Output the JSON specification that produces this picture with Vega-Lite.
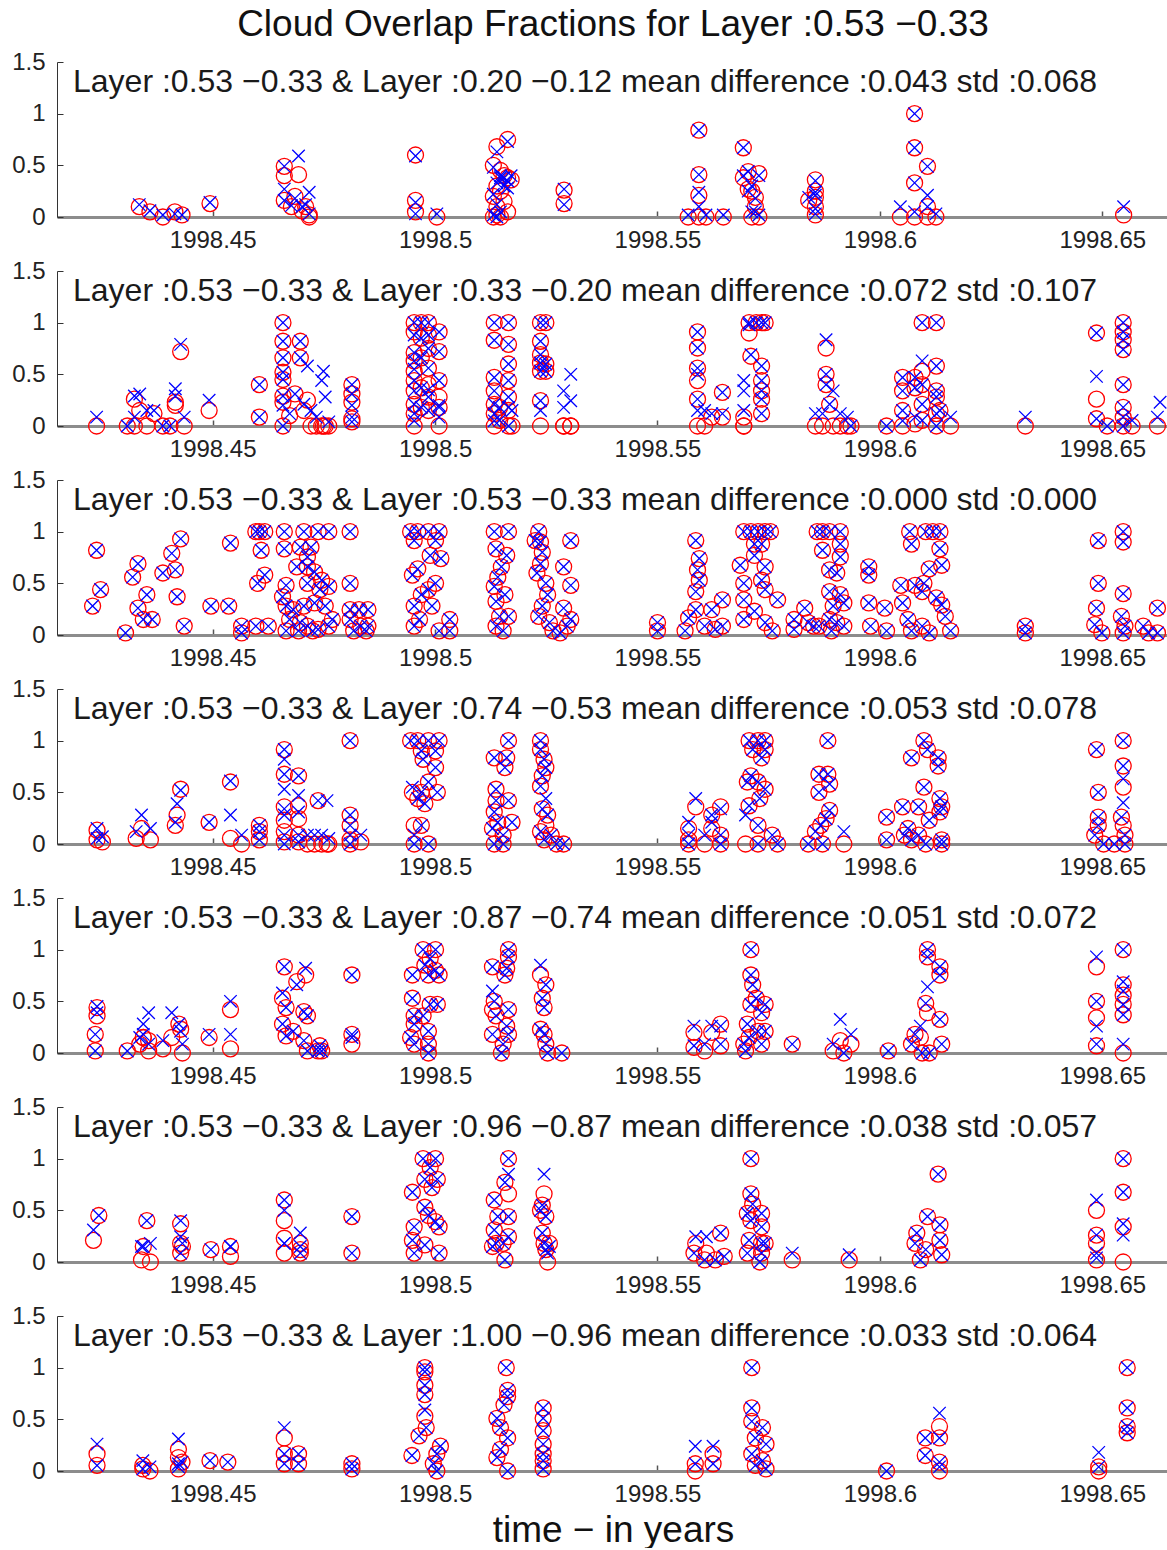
{
"$schema": "https://vega.github.io/schema/vega-lite/v6.json",
"padding": {"left": 11, "top": 6, "right": 0, "bottom": 0},
"background": "white",
"config": {"view": {"stroke": null}, "font": "Liberation Sans",
 "axisX": {"labelFontSize": 24, "labelColor": "#222222", "labelPadding": 17, "tickSize": -6, "tickColor": "#555555", "tickWidth": 1.5, "domainColor": "#8c8c8c", "domainWidth": 3, "grid": false, "labelFlush": false, "labelOverlap": false, "titleFontSize": 37, "titleFontWeight": "normal", "titleColor": "#111111", "titlePadding": 6, "titleFont": "Liberation Sans"},
 "axisY": {"labelFontSize": 24, "labelColor": "#222222", "labelPadding": 18, "tickSize": -6, "tickColor": "#333333", "domainColor": "#333333", "domainWidth": 1, "grid": false, "labelFlush": false},
 "point": {"filled": false, "opacity": 1, "strokeWidth": 1.3, "clip": false},
 "text": {"align": "left", "baseline": "middle", "fontSize": 32, "font": "Liberation Sans", "color": "#1a1a1a"}
},
"bounds": "flush",
"spacing": 54,
"data": {"values": [
{"p":1,"label":"Layer :0.53 −0.33 & Layer :0.20 −0.12 mean difference :0.043 std :0.068"},
{"p":2,"label":"Layer :0.53 −0.33 & Layer :0.33 −0.20 mean difference :0.072 std :0.107"},
{"p":3,"label":"Layer :0.53 −0.33 & Layer :0.53 −0.33 mean difference :0.000 std :0.000"},
{"p":4,"label":"Layer :0.53 −0.33 & Layer :0.74 −0.53 mean difference :0.053 std :0.078"},
{"p":5,"label":"Layer :0.53 −0.33 & Layer :0.87 −0.74 mean difference :0.051 std :0.072"},
{"p":6,"label":"Layer :0.53 −0.33 & Layer :0.96 −0.87 mean difference :0.038 std :0.057"},
{"p":7,"label":"Layer :0.53 −0.33 & Layer :1.00 −0.96 mean difference :0.033 std :0.064"},
{"p":1,"t":1998.4335,"r":0.10,"b":0.12},{"p":1,"t":1998.4359,"r":0.05,"b":0.06},{"p":1,"t":1998.4388,"r":0,"b":0.02},{"p":1,"t":1998.4415,"r":0.05,"b":0.03},{"p":1,"t":1998.4431,"r":0.02,"b":0.02},{"p":1,"t":1998.4494,"r":0.13,"b":0.14},
{"p":1,"t":1998.4661,"r":0.49,"b":0.49},{"p":1,"t":1998.4661,"r":0.40,"b":0.27},{"p":1,"t":1998.4661,"r":0.16,"b":0.16},{"p":1,"t":1998.4677,"r":0.10,"b":0.11},{"p":1,"t":1998.4693,"r":0.41,"b":0.59},{"p":1,"t":1998.4701,"r":0.06,"b":0.10},{"p":1,"t":1998.4717,"r":0.02,"b":0.24},{"p":1,"t":1998.4717,"r":0,"b":0.03},{"p":1,"t":1998.4709,"r":0.10,"b":0.12},{"p":1,"t":1998.4685,"r":0.20,"b":0.18},
{"p":1,"t":1998.4956,"r":0.60,"b":0.59},{"p":1,"t":1998.4956,"r":0.16,"b":0.14},{"p":1,"t":1998.4956,"r":0.05,"b":0.03},{"p":1,"t":1998.5004,"r":0,"b":0.03},
{"p":1,"t":1998.5139,"r":0.68,"b":0.63},{"p":1,"t":1998.5163,"r":0.75,"b":0.73},{"p":1,"t":1998.5131,"r":0.50,"b":0.48},{"p":1,"t":1998.5147,"r":0.45,"b":0.40},{"p":1,"t":1998.5155,"r":0.40,"b":0.38},{"p":1,"t":1998.5163,"r":0.38,"b":0.35},{"p":1,"t":1998.5139,"r":0.30,"b":0.33},{"p":1,"t":1998.5147,"r":0.25,"b":0.38},{"p":1,"t":1998.5131,"r":0.20,"b":0.22},{"p":1,"t":1998.5155,"r":0.15,"b":0.30},{"p":1,"t":1998.5139,"r":0.10,"b":0.12},{"p":1,"t":1998.5163,"r":0.05,"b":0.28},{"p":1,"t":1998.5131,"r":0,"b":0.02},{"p":1,"t":1998.5147,"r":0,"b":0.05},{"p":1,"t":1998.5171,"r":0.36,"b":0.40},{"p":1,"t":1998.5139,"r":0.02,"b":0},
{"p":1,"t":1998.5290,"r":0.26,"b":0.27},{"p":1,"t":1998.5290,"r":0.13,"b":0.12},
{"p":1,"t":1998.5569,"r":0,"b":0.02},{"p":1,"t":1998.5593,"r":0.84,"b":0.84},{"p":1,"t":1998.5593,"r":0.41,"b":0.41},{"p":1,"t":1998.5593,"r":0.21,"b":0.24},{"p":1,"t":1998.5593,"r":0,"b":0.10},{"p":1,"t":1998.5609,"r":0,"b":0.02},{"p":1,"t":1998.5648,"r":0,"b":0.02},
{"p":1,"t":1998.5693,"r":0.67,"b":0.67},{"p":1,"t":1998.5693,"r":0.38,"b":0.40},{"p":1,"t":1998.5704,"r":0.44,"b":0.44},{"p":1,"t":1998.5704,"r":0.27,"b":0.25},{"p":1,"t":1998.5720,"r":0.19,"b":0.18},{"p":1,"t":1998.5720,"r":0.10,"b":0.05},{"p":1,"t":1998.5728,"r":0,"b":0.02},{"p":1,"t":1998.5728,"r":0.42,"b":0.40},{"p":1,"t":1998.5712,"r":0.25,"b":0.30},{"p":1,"t":1998.5712,"r":0,"b":0.05},
{"p":1,"t":1998.5840,"r":0.16,"b":0.19},{"p":1,"t":1998.5855,"r":0.36,"b":0.35},{"p":1,"t":1998.5855,"r":0.25,"b":0.24},{"p":1,"t":1998.5855,"r":0.19,"b":0.21},{"p":1,"t":1998.5855,"r":0.10,"b":0.08},{"p":1,"t":1998.5855,"r":0.02,"b":0.03},
{"p":1,"t":1998.6046,"r":0,"b":0.10},{"p":1,"t":1998.6078,"r":1,"b":1},{"p":1,"t":1998.6078,"r":0.67,"b":0.67},{"p":1,"t":1998.6078,"r":0.33,"b":0.33},{"p":1,"t":1998.6078,"r":0,"b":0.05},{"p":1,"t":1998.6107,"r":0.49,"b":0.49},{"p":1,"t":1998.6107,"r":0.10,"b":0.21},{"p":1,"t":1998.6107,"r":0,"b":0.10},{"p":1,"t":1998.6126,"r":0,"b":0.03},{"p":1,"t":1998.6548,"r":0.02,"b":0.10},

{"p":2,"t":1998.4239,"r":0,"b":0.086},{"p":2,"t":1998.4308,"r":0,"b":0},{"p":2,"t":1998.4324,"r":0.26,"b":0.29},{"p":2,"t":1998.4324,"r":0,"b":0.086},{"p":2,"t":1998.4336,"r":0.15,"b":0.31},{"p":2,"t":1998.4352,"r":0,"b":0.15},{"p":2,"t":1998.4368,"r":0.12,"b":0.15},{"p":2,"t":1998.4388,"r":0,"b":0},{"p":2,"t":1998.4404,"r":0,"b":0},{"p":2,"t":1998.4416,"r":0.23,"b":0.36},{"p":2,"t":1998.4416,"r":0.20,"b":0.29},{"p":2,"t":1998.4428,"r":0.72,"b":0.79},{"p":2,"t":1998.4436,"r":0,"b":0.086},{"p":2,"t":1998.4492,"r":0.15,"b":0.25},
{"p":2,"t":1998.4605,"r":0.40,"b":0.40},{"p":2,"t":1998.4605,"r":0.086,"b":0.086},
{"p":2,"t":1998.4658,"r":1,"b":1},{"p":2,"t":1998.4658,"r":0.82,"b":0.82},{"p":2,"t":1998.4658,"r":0.66,"b":0.66},{"p":2,"t":1998.4658,"r":0.52,"b":0.52},{"p":2,"t":1998.4658,"r":0.45,"b":0.45},{"p":2,"t":1998.4658,"r":0.29,"b":0.29},{"p":2,"t":1998.4658,"r":0.23,"b":0.20},{"p":2,"t":1998.4658,"r":0,"b":0},
{"p":2,"t":1998.4697,"r":0.82,"b":0.82},{"p":2,"t":1998.4697,"r":0.66,"b":0.66},{"p":2,"t":1998.4713,"r":0.25,"b":0.58},{"p":2,"t":1998.4685,"r":0.31,"b":0.31},{"p":2,"t":1998.4705,"r":0.15,"b":0.21},{"p":2,"t":1998.4721,"r":0,"b":0.15},{"p":2,"t":1998.4733,"r":0,"b":0.086},{"p":2,"t":1998.4745,"r":0,"b":0.44},{"p":2,"t":1998.4749,"r":0,"b":0.53},{"p":2,"t":1998.4753,"r":0,"b":0.28},{"p":2,"t":1998.4761,"r":0,"b":0.04},{"p":2,"t":1998.4673,"r":0.10,"b":0.12},
{"p":2,"t":1998.4813,"r":0.40,"b":0.40},{"p":2,"t":1998.4813,"r":0.31,"b":0.31},{"p":2,"t":1998.4813,"r":0.23,"b":0.20},{"p":2,"t":1998.4813,"r":0.07,"b":0.086},{"p":2,"t":1998.4813,"r":0.04,"b":0.04},
{"p":2,"t":1998.4953,"r":1,"b":1},{"p":2,"t":1998.4953,"r":0.91,"b":0.88},{"p":2,"t":1998.4953,"r":0.71,"b":0.71},{"p":2,"t":1998.4953,"r":0.63,"b":0.63},{"p":2,"t":1998.4953,"r":0.53,"b":0.55},{"p":2,"t":1998.4953,"r":0.44,"b":0.44},{"p":2,"t":1998.4953,"r":0.34,"b":0.34},{"p":2,"t":1998.4953,"r":0.21,"b":0.21},{"p":2,"t":1998.4953,"r":0.12,"b":0.12},{"p":2,"t":1998.4953,"r":0,"b":0.05},
{"p":2,"t":1998.4969,"r":1,"b":1},{"p":2,"t":1998.4969,"r":0.85,"b":0.85},{"p":2,"t":1998.4969,"r":0.66,"b":0.66},{"p":2,"t":1998.4969,"r":0.37,"b":0.37},{"p":2,"t":1998.4969,"r":0.18,"b":0.18},
{"p":2,"t":1998.4985,"r":1,"b":1},{"p":2,"t":1998.4985,"r":0.88,"b":0.88},{"p":2,"t":1998.4985,"r":0.75,"b":0.75},{"p":2,"t":1998.4985,"r":0.56,"b":0.56},{"p":2,"t":1998.4985,"r":0.40,"b":0.35},{"p":2,"t":1998.4985,"r":0.28,"b":0.28},{"p":2,"t":1998.4985,"r":0.15,"b":0.15},
{"p":2,"t":1998.5009,"r":0.91,"b":0.91},{"p":2,"t":1998.5009,"r":0.72,"b":0.72},{"p":2,"t":1998.5009,"r":0.44,"b":0.44},{"p":2,"t":1998.5009,"r":0.28,"b":0.20},{"p":2,"t":1998.5009,"r":0.18,"b":0.18},{"p":2,"t":1998.5009,"r":0,"b":0.086},
{"p":2,"t":1998.5133,"r":1,"b":1},{"p":2,"t":1998.5133,"r":0.83,"b":0.83},{"p":2,"t":1998.5133,"r":0.47,"b":0.47},{"p":2,"t":1998.5133,"r":0.34,"b":0.34},{"p":2,"t":1998.5133,"r":0.21,"b":0.21},{"p":2,"t":1998.5133,"r":0.12,"b":0.12},{"p":2,"t":1998.5133,"r":0,"b":0.05},
{"p":2,"t":1998.5165,"r":1,"b":1},{"p":2,"t":1998.5165,"r":0.79,"b":0.79},{"p":2,"t":1998.5165,"r":0.60,"b":0.60},{"p":2,"t":1998.5165,"r":0.44,"b":0.44},{"p":2,"t":1998.5165,"r":0.28,"b":0.28},{"p":2,"t":1998.5165,"r":0.15,"b":0.18},{"p":2,"t":1998.5165,"r":0,"b":0},{"p":2,"t":1998.5145,"r":0.18,"b":0.18},{"p":2,"t":1998.5145,"r":0.054,"b":0.054},{"p":2,"t":1998.5173,"r":0,"b":0.15},
{"p":2,"t":1998.5237,"r":1,"b":1},{"p":2,"t":1998.5237,"r":0.82,"b":0.82},{"p":2,"t":1998.5237,"r":0.69,"b":0.69},{"p":2,"t":1998.5237,"r":0.61,"b":0.61},{"p":2,"t":1998.5237,"r":0.53,"b":0.53},{"p":2,"t":1998.5237,"r":0.245,"b":0.245},{"p":2,"t":1998.5237,"r":0,"b":0.15},{"p":2,"t":1998.5249,"r":1,"b":1},{"p":2,"t":1998.5249,"r":0.60,"b":0.60},{"p":2,"t":1998.5249,"r":0.53,"b":0.53},
{"p":2,"t":1998.5289,"r":0,"b":0.34},{"p":2,"t":1998.5289,"r":0,"b":0.18},{"p":2,"t":1998.5305,"r":0,"b":0.50},{"p":2,"t":1998.5305,"r":0,"b":0.245},
{"p":2,"t":1998.5590,"r":0.91,"b":0.91},{"p":2,"t":1998.5590,"r":0.755,"b":0.755},{"p":2,"t":1998.5590,"r":0.56,"b":0.56},{"p":2,"t":1998.5590,"r":0.44,"b":0.50},{"p":2,"t":1998.5590,"r":0.26,"b":0.26},{"p":2,"t":1998.5590,"r":0,"b":0.15},{"p":2,"t":1998.5606,"r":0,"b":0.15},{"p":2,"t":1998.5622,"r":0.086,"b":0.12},{"p":2,"t":1998.5646,"r":0.325,"b":0.325},{"p":2,"t":1998.5646,"r":0.086,"b":0.12},
{"p":2,"t":1998.5694,"r":0,"b":0.15},{"p":2,"t":1998.5694,"r":0.086,"b":0.44},{"p":2,"t":1998.5694,"r":0,"b":0.34},{"p":2,"t":1998.5706,"r":0.90,"b":0.98},{"p":2,"t":1998.5706,"r":1,"b":1},{"p":2,"t":1998.5710,"r":0.675,"b":0.69},{"p":2,"t":1998.5722,"r":1,"b":1},{"p":2,"t":1998.5734,"r":1,"b":1},{"p":2,"t":1998.5734,"r":0.58,"b":0.58},{"p":2,"t":1998.5734,"r":0.44,"b":0.44},{"p":2,"t":1998.5734,"r":0.34,"b":0.34},{"p":2,"t":1998.5734,"r":0.26,"b":0.26},{"p":2,"t":1998.5734,"r":0.12,"b":0.12},{"p":2,"t":1998.5742,"r":1,"b":1},
{"p":2,"t":1998.5855,"r":0,"b":0.12},{"p":2,"t":1998.5879,"r":0.755,"b":0.834},{"p":2,"t":1998.5879,"r":0.50,"b":0.50},{"p":2,"t":1998.5879,"r":0.40,"b":0.40},{"p":2,"t":1998.5895,"r":0,"b":0.34},{"p":2,"t":1998.5911,"r":0,"b":0.12},{"p":2,"t":1998.5927,"r":0,"b":0.086},{"p":2,"t":1998.5871,"r":0,"b":0.12},{"p":2,"t":1998.5887,"r":0.21,"b":0.21},{"p":2,"t":1998.5935,"r":0,"b":0},
{"p":2,"t":1998.6015,"r":0,"b":0},{"p":2,"t":1998.6051,"r":0.47,"b":0.47},{"p":2,"t":1998.6051,"r":0.34,"b":0.34},{"p":2,"t":1998.6051,"r":0.15,"b":0.15},{"p":2,"t":1998.6051,"r":0,"b":0.05},{"p":2,"t":1998.6079,"r":0.47,"b":0.47},{"p":2,"t":1998.6079,"r":0.37,"b":0.37},{"p":2,"t":1998.6079,"r":0.02,"b":0.086},
{"p":2,"t":1998.6095,"r":1,"b":1},{"p":2,"t":1998.6095,"r":0.53,"b":0.63},{"p":2,"t":1998.6095,"r":0.40,"b":0.40},{"p":2,"t":1998.6095,"r":0.21,"b":0.21},{"p":2,"t":1998.6095,"r":0.054,"b":0.054},
{"p":2,"t":1998.6127,"r":1,"b":1},{"p":2,"t":1998.6127,"r":0.58,"b":0.58},{"p":2,"t":1998.6127,"r":0.34,"b":0.34},{"p":2,"t":1998.6127,"r":0.28,"b":0.28},{"p":2,"t":1998.6127,"r":0.12,"b":0.12},{"p":2,"t":1998.6127,"r":0,"b":0},{"p":2,"t":1998.6135,"r":0.15,"b":0.15},{"p":2,"t":1998.6159,"r":0,"b":0.086},
{"p":2,"t":1998.6327,"r":0,"b":0.086},
{"p":2,"t":1998.6487,"r":0.90,"b":0.90},{"p":2,"t":1998.6487,"r":0.26,"b":0.48},{"p":2,"t":1998.6487,"r":0.07,"b":0.07},{"p":2,"t":1998.6511,"r":0,"b":0},
{"p":2,"t":1998.6547,"r":1,"b":1},{"p":2,"t":1998.6547,"r":0.91,"b":0.91},{"p":2,"t":1998.6547,"r":0.834,"b":0.834},{"p":2,"t":1998.6547,"r":0.74,"b":0.74},{"p":2,"t":1998.6547,"r":0.40,"b":0.40},{"p":2,"t":1998.6547,"r":0.18,"b":0.18},{"p":2,"t":1998.6547,"r":0.086,"b":0.086},{"p":2,"t":1998.6547,"r":0,"b":0},{"p":2,"t":1998.6567,"r":0,"b":0.054},{"p":2,"t":1998.6624,"r":0,"b":0.086},{"p":2,"t":1998.6630,"r":null,"b":0.23},

{"p":3,"t":1998.4239,"r":0.82,"b":0.82},{"p":3,"t":1998.4248,"r":0.44,"b":0.44},{"p":3,"t":1998.4230,"r":0.28,"b":0.28},{"p":3,"t":1998.4304,"r":0.02,"b":0.02},{"p":3,"t":1998.4332,"r":0.69,"b":0.69},{"p":3,"t":1998.4320,"r":0.56,"b":0.56},{"p":3,"t":1998.4352,"r":0.39,"b":0.39},{"p":3,"t":1998.4332,"r":0.26,"b":0.26},{"p":3,"t":1998.4344,"r":0.15,"b":0.15},{"p":3,"t":1998.4364,"r":0.15,"b":0.15},
{"p":3,"t":1998.4428,"r":0.93,"b":0.93},{"p":3,"t":1998.4408,"r":0.79,"b":0.79},{"p":3,"t":1998.4416,"r":0.63,"b":0.63},{"p":3,"t":1998.4388,"r":0.60,"b":0.60},{"p":3,"t":1998.4420,"r":0.37,"b":0.37},{"p":3,"t":1998.4436,"r":0.086,"b":0.086},{"p":3,"t":1998.4496,"r":0.28,"b":0.28},{"p":3,"t":1998.4540,"r":0.89,"b":0.89},{"p":3,"t":1998.4536,"r":0.28,"b":0.28},{"p":3,"t":1998.4565,"r":0.086,"b":0.086},{"p":3,"t":1998.4565,"r":0.02,"b":0.02},
{"p":3,"t":1998.4597,"r":1,"b":1},{"p":3,"t":1998.4605,"r":1,"b":1},{"p":3,"t":1998.4617,"r":1,"b":1},{"p":3,"t":1998.4609,"r":0.82,"b":0.82},{"p":3,"t":1998.4601,"r":0.50,"b":0.50},{"p":3,"t":1998.4617,"r":0.58,"b":0.58},{"p":3,"t":1998.4597,"r":0.086,"b":0.086},{"p":3,"t":1998.4625,"r":0.086,"b":0.086},
{"p":3,"t":1998.4661,"r":1,"b":1},{"p":3,"t":1998.4661,"r":0.834,"b":0.834},{"p":3,"t":1998.4705,"r":1,"b":1},{"p":3,"t":1998.4737,"r":1,"b":1},{"p":3,"t":1998.4761,"r":1,"b":1},{"p":3,"t":1998.4697,"r":0.85,"b":0.85},{"p":3,"t":1998.4721,"r":0.85,"b":0.85},{"p":3,"t":1998.4713,"r":0.755,"b":0.755},{"p":3,"t":1998.4689,"r":0.66,"b":0.66},{"p":3,"t":1998.4713,"r":0.66,"b":0.66},{"p":3,"t":1998.4729,"r":0.61,"b":0.61},{"p":3,"t":1998.4745,"r":0.53,"b":0.53},{"p":3,"t":1998.4761,"r":0.47,"b":0.47},{"p":3,"t":1998.4665,"r":0.48,"b":0.48},{"p":3,"t":1998.4713,"r":0.50,"b":0.50},{"p":3,"t":1998.4741,"r":0.44,"b":0.44},{"p":3,"t":1998.4657,"r":0.37,"b":0.37},{"p":3,"t":1998.4665,"r":0.28,"b":0.28},{"p":3,"t":1998.4681,"r":0.245,"b":0.245},{"p":3,"t":1998.4705,"r":0.28,"b":0.28},{"p":3,"t":1998.4729,"r":0.31,"b":0.31},{"p":3,"t":1998.4753,"r":0.28,"b":0.28},{"p":3,"t":1998.4769,"r":0.15,"b":0.15},{"p":3,"t":1998.4673,"r":0.15,"b":0.15},{"p":3,"t":1998.4697,"r":0.12,"b":0.12},{"p":3,"t":1998.4713,"r":0.086,"b":0.086},{"p":3,"t":1998.4737,"r":0.054,"b":0.054},{"p":3,"t":1998.4761,"r":0.086,"b":0.086},{"p":3,"t":1998.4665,"r":0.04,"b":0.04},{"p":3,"t":1998.4693,"r":0.04,"b":0.04},{"p":3,"t":1998.4725,"r":0.04,"b":0.04},
{"p":3,"t":1998.4809,"r":1,"b":1},{"p":3,"t":1998.4809,"r":0.50,"b":0.50},{"p":3,"t":1998.4809,"r":0.245,"b":0.245},{"p":3,"t":1998.4829,"r":0.245,"b":0.245},{"p":3,"t":1998.4849,"r":0.245,"b":0.245},{"p":3,"t":1998.4809,"r":0.15,"b":0.15},{"p":3,"t":1998.4833,"r":0.086,"b":0.086},{"p":3,"t":1998.4849,"r":0.086,"b":0.086},{"p":3,"t":1998.4817,"r":0.04,"b":0.04},{"p":3,"t":1998.4845,"r":0.04,"b":0.04},
{"p":3,"t":1998.4945,"r":1,"b":1},{"p":3,"t":1998.4961,"r":1,"b":1},{"p":3,"t":1998.4985,"r":1,"b":1},{"p":3,"t":1998.5009,"r":1,"b":1},{"p":3,"t":1998.4953,"r":0.914,"b":0.914},{"p":3,"t":1998.5001,"r":0.914,"b":0.914},{"p":3,"t":1998.4989,"r":0.77,"b":0.77},{"p":3,"t":1998.5013,"r":0.74,"b":0.74},{"p":3,"t":1998.4961,"r":0.64,"b":0.64},{"p":3,"t":1998.4949,"r":0.58,"b":0.58},{"p":3,"t":1998.4985,"r":0.44,"b":0.44},{"p":3,"t":1998.5001,"r":0.50,"b":0.50},{"p":3,"t":1998.4969,"r":0.39,"b":0.39},{"p":3,"t":1998.4953,"r":0.28,"b":0.28},{"p":3,"t":1998.4993,"r":0.28,"b":0.28},{"p":3,"t":1998.4965,"r":0.15,"b":0.15},{"p":3,"t":1998.4953,"r":0.086,"b":0.086},{"p":3,"t":1998.5033,"r":0.15,"b":0.15},{"p":3,"t":1998.5009,"r":0.04,"b":0.04},{"p":3,"t":1998.5033,"r":0.04,"b":0.04},
{"p":3,"t":1998.5133,"r":1,"b":1},{"p":3,"t":1998.5165,"r":1,"b":1},{"p":3,"t":1998.5137,"r":0.834,"b":0.834},{"p":3,"t":1998.5161,"r":0.77,"b":0.77},{"p":3,"t":1998.5149,"r":0.66,"b":0.66},{"p":3,"t":1998.5141,"r":0.56,"b":0.56},{"p":3,"t":1998.5133,"r":0.47,"b":0.47},{"p":3,"t":1998.5157,"r":0.39,"b":0.39},{"p":3,"t":1998.5137,"r":0.325,"b":0.325},{"p":3,"t":1998.5145,"r":0.18,"b":0.18},{"p":3,"t":1998.5165,"r":0.18,"b":0.18},{"p":3,"t":1998.5137,"r":0.086,"b":0.086},{"p":3,"t":1998.5153,"r":0.04,"b":0.04},
{"p":3,"t":1998.5233,"r":1,"b":1},{"p":3,"t":1998.5237,"r":0.90,"b":0.90},{"p":3,"t":1998.5225,"r":0.914,"b":0.914},{"p":3,"t":1998.5241,"r":0.80,"b":0.80},{"p":3,"t":1998.5237,"r":0.69,"b":0.69},{"p":3,"t":1998.5229,"r":0.60,"b":0.60},{"p":3,"t":1998.5249,"r":0.50,"b":0.50},{"p":3,"t":1998.5253,"r":0.39,"b":0.39},{"p":3,"t":1998.5241,"r":0.28,"b":0.28},{"p":3,"t":1998.5233,"r":0.18,"b":0.18},{"p":3,"t":1998.5257,"r":0.12,"b":0.12},{"p":3,"t":1998.5265,"r":0.04,"b":0.04},{"p":3,"t":1998.5289,"r":0.26,"b":0.26},{"p":3,"t":1998.5297,"r":0.086,"b":0.086},{"p":3,"t":1998.5305,"r":0.15,"b":0.15},{"p":3,"t":1998.5281,"r":0.02,"b":0.02},{"p":3,"t":1998.5305,"r":0.914,"b":0.914},{"p":3,"t":1998.5289,"r":0.66,"b":0.66},{"p":3,"t":1998.5305,"r":0.48,"b":0.48},
{"p":3,"t":1998.5500,"r":0.04,"b":0.04},{"p":3,"t":1998.5500,"r":0.12,"b":0.12},{"p":3,"t":1998.5562,"r":0.04,"b":0.04},{"p":3,"t":1998.5570,"r":0.165,"b":0.165},{"p":3,"t":1998.5586,"r":0.914,"b":0.914},{"p":3,"t":1998.5594,"r":0.74,"b":0.74},{"p":3,"t":1998.5590,"r":0.63,"b":0.63},{"p":3,"t":1998.5594,"r":0.53,"b":0.53},{"p":3,"t":1998.5586,"r":0.42,"b":0.42},{"p":3,"t":1998.5586,"r":0.245,"b":0.245},{"p":3,"t":1998.5606,"r":0.086,"b":0.086},{"p":3,"t":1998.5622,"r":0.245,"b":0.245},{"p":3,"t":1998.5630,"r":0.054,"b":0.054},{"p":3,"t":1998.5646,"r":0.34,"b":0.34},{"p":3,"t":1998.5646,"r":0.086,"b":0.086},
{"p":3,"t":1998.5694,"r":1,"b":1},{"p":3,"t":1998.5710,"r":1,"b":1},{"p":3,"t":1998.5726,"r":1,"b":1},{"p":3,"t":1998.5742,"r":1,"b":1},{"p":3,"t":1998.5754,"r":1,"b":1},{"p":3,"t":1998.5718,"r":0.88,"b":0.88},{"p":3,"t":1998.5734,"r":0.88,"b":0.88},{"p":3,"t":1998.5686,"r":0.675,"b":0.675},{"p":3,"t":1998.5718,"r":0.77,"b":0.77},{"p":3,"t":1998.5742,"r":0.66,"b":0.66},{"p":3,"t":1998.5694,"r":0.50,"b":0.50},{"p":3,"t":1998.5734,"r":0.53,"b":0.53},{"p":3,"t":1998.5694,"r":0.34,"b":0.34},{"p":3,"t":1998.5718,"r":0.23,"b":0.23},{"p":3,"t":1998.5742,"r":0.44,"b":0.44},{"p":3,"t":1998.5770,"r":0.34,"b":0.34},{"p":3,"t":1998.5694,"r":0.15,"b":0.15},{"p":3,"t":1998.5758,"r":0.04,"b":0.04},{"p":3,"t":1998.5742,"r":0.12,"b":0.12},
{"p":3,"t":1998.5807,"r":0.15,"b":0.15},{"p":3,"t":1998.5807,"r":0.054,"b":0.054},{"p":3,"t":1998.5831,"r":0.26,"b":0.26},{"p":3,"t":1998.5839,"r":0.12,"b":0.12},{"p":3,"t":1998.5851,"r":0.086,"b":0.086},{"p":3,"t":1998.5863,"r":0.086,"b":0.086},
{"p":3,"t":1998.5859,"r":1,"b":1},{"p":3,"t":1998.5871,"r":1,"b":1},{"p":3,"t":1998.5887,"r":1,"b":1},{"p":3,"t":1998.5911,"r":1,"b":1},{"p":3,"t":1998.5871,"r":0.82,"b":0.82},{"p":3,"t":1998.5911,"r":0.88,"b":0.88},{"p":3,"t":1998.5911,"r":0.755,"b":0.755},{"p":3,"t":1998.5887,"r":0.63,"b":0.63},{"p":3,"t":1998.5903,"r":0.60,"b":0.60},{"p":3,"t":1998.5887,"r":0.42,"b":0.42},{"p":3,"t":1998.5911,"r":0.39,"b":0.39},{"p":3,"t":1998.5895,"r":0.28,"b":0.28},{"p":3,"t":1998.5919,"r":0.31,"b":0.31},{"p":3,"t":1998.5887,"r":0.15,"b":0.15},{"p":3,"t":1998.5903,"r":0.12,"b":0.12},{"p":3,"t":1998.5919,"r":0.086,"b":0.086},{"p":3,"t":1998.5891,"r":0.04,"b":0.04},
{"p":3,"t":1998.5975,"r":0.66,"b":0.66},{"p":3,"t":1998.5975,"r":0.58,"b":0.58},{"p":3,"t":1998.5975,"r":0.31,"b":0.31},{"p":3,"t":1998.5979,"r":0.086,"b":0.086},{"p":3,"t":1998.6011,"r":0.26,"b":0.26},{"p":3,"t":1998.6015,"r":0.04,"b":0.04},
{"p":3,"t":1998.6047,"r":0.48,"b":0.48},{"p":3,"t":1998.6051,"r":0.31,"b":0.31},{"p":3,"t":1998.6063,"r":0.15,"b":0.15},{"p":3,"t":1998.6067,"r":1,"b":1},{"p":3,"t":1998.6071,"r":0.88,"b":0.88},{"p":3,"t":1998.6079,"r":0.48,"b":0.48},{"p":3,"t":1998.6095,"r":0.42,"b":0.42},{"p":3,"t":1998.6099,"r":0.50,"b":0.50},{"p":3,"t":1998.6103,"r":1,"b":1},{"p":3,"t":1998.6111,"r":0.64,"b":0.64},{"p":3,"t":1998.6119,"r":1,"b":1},{"p":3,"t":1998.6135,"r":1,"b":1},{"p":3,"t":1998.6135,"r":0.834,"b":0.834},{"p":3,"t":1998.6139,"r":0.675,"b":0.675},{"p":3,"t":1998.6127,"r":0.36,"b":0.36},{"p":3,"t":1998.6139,"r":0.29,"b":0.29},{"p":3,"t":1998.6147,"r":0.18,"b":0.18},{"p":3,"t":1998.6095,"r":0.086,"b":0.086},{"p":3,"t":1998.6111,"r":0.02,"b":0.02},{"p":3,"t":1998.6159,"r":0.04,"b":0.04},{"p":3,"t":1998.6071,"r":0.04,"b":0.04},
{"p":3,"t":1998.6327,"r":0.086,"b":0.086},{"p":3,"t":1998.6327,"r":0.02,"b":0.02},
{"p":3,"t":1998.6491,"r":0.914,"b":0.914},{"p":3,"t":1998.6491,"r":0.50,"b":0.50},{"p":3,"t":1998.6487,"r":0.26,"b":0.26},{"p":3,"t":1998.6483,"r":0.10,"b":0.10},{"p":3,"t":1998.6499,"r":0.02,"b":0.02},{"p":3,"t":1998.6547,"r":1,"b":1},{"p":3,"t":1998.6547,"r":0.90,"b":0.90},{"p":3,"t":1998.6547,"r":0.40,"b":0.40},{"p":3,"t":1998.6543,"r":0.18,"b":0.18},{"p":3,"t":1998.6551,"r":0.086,"b":0.086},{"p":3,"t":1998.6547,"r":0.02,"b":0.02},{"p":3,"t":1998.6592,"r":0.086,"b":0.086},{"p":3,"t":1998.6604,"r":0.02,"b":0.02},{"p":3,"t":1998.6624,"r":0.26,"b":0.26},{"p":3,"t":1998.6624,"r":0.02,"b":0.02},

{"p":4,"t":1998.4240,"r":0.134,"b":0.15},{"p":4,"t":1998.4240,"r":0.04,"b":0.054},{"p":4,"t":1998.4252,"r":0.02,"b":0.07},{"p":4,"t":1998.4328,"r":0.054,"b":0.12},{"p":4,"t":1998.4340,"r":0.15,"b":0.28},{"p":4,"t":1998.4360,"r":0.04,"b":0.15},{"p":4,"t":1998.4416,"r":0.18,"b":0.21},{"p":4,"t":1998.4420,"r":0.28,"b":0.39},{"p":4,"t":1998.4428,"r":0.53,"b":0.52},{"p":4,"t":1998.4492,"r":0.21,"b":0.21},{"p":4,"t":1998.4540,"r":0.60,"b":0.61},{"p":4,"t":1998.4540,"r":0.054,"b":0.28},{"p":4,"t":1998.4565,"r":0,"b":0.086},
{"p":4,"t":1998.4605,"r":0.18,"b":0.18},{"p":4,"t":1998.4605,"r":0.12,"b":0.12},{"p":4,"t":1998.4605,"r":0.04,"b":0.04},
{"p":4,"t":1998.4661,"r":0.914,"b":0.914},{"p":4,"t":1998.4661,"r":0.675,"b":0.675},{"p":4,"t":1998.4661,"r":0.36,"b":0.34},{"p":4,"t":1998.4661,"r":0.23,"b":0.28},{"p":4,"t":1998.4661,"r":0.12,"b":0.086},{"p":4,"t":1998.4661,"r":0.02,"b":0},{"p":4,"t":1998.4661,"r":null,"b":0.82},{"p":4,"t":1998.4661,"r":null,"b":0.53},
{"p":4,"t":1998.4693,"r":0.66,"b":0.66},{"p":4,"t":1998.4693,"r":0.37,"b":0.47},{"p":4,"t":1998.4693,"r":0.245,"b":0.31},{"p":4,"t":1998.4693,"r":0.086,"b":0.086},{"p":4,"t":1998.4693,"r":0.02,"b":0.02},
{"p":4,"t":1998.4713,"r":0,"b":0.086},{"p":4,"t":1998.4729,"r":0,"b":0.086},{"p":4,"t":1998.4737,"r":0.42,"b":0.42},{"p":4,"t":1998.4745,"r":0,"b":0.086},{"p":4,"t":1998.4757,"r":0,"b":0.42},{"p":4,"t":1998.4761,"r":0,"b":0.054},
{"p":4,"t":1998.4809,"r":1,"b":1},{"p":4,"t":1998.4809,"r":0.28,"b":0.28},{"p":4,"t":1998.4809,"r":0.18,"b":0.18},{"p":4,"t":1998.4809,"r":0.04,"b":0.086},{"p":4,"t":1998.4809,"r":0,"b":0},{"p":4,"t":1998.4833,"r":0.02,"b":0.086},
{"p":4,"t":1998.4945,"r":1,"b":1},{"p":4,"t":1998.4949,"r":0.50,"b":0.55},{"p":4,"t":1998.4953,"r":0.18,"b":0.086},{"p":4,"t":1998.4953,"r":0,"b":0},{"p":4,"t":1998.4961,"r":1,"b":1},{"p":4,"t":1998.4961,"r":0.44,"b":0.44},{"p":4,"t":1998.4969,"r":0.90,"b":0.90},{"p":4,"t":1998.4969,"r":0.50,"b":0.50},{"p":4,"t":1998.4969,"r":0.18,"b":0.18},{"p":4,"t":1998.4973,"r":0.82,"b":0.82},{"p":4,"t":1998.4977,"r":0.39,"b":0.39},{"p":4,"t":1998.4985,"r":1,"b":1},{"p":4,"t":1998.4985,"r":0.60,"b":0.60},{"p":4,"t":1998.4985,"r":0,"b":0},{"p":4,"t":1998.5001,"r":0.90,"b":0.90},{"p":4,"t":1998.5001,"r":0.74,"b":0.74},{"p":4,"t":1998.5005,"r":0.50,"b":0.50},{"p":4,"t":1998.5009,"r":1,"b":1},
{"p":4,"t":1998.5133,"r":0.834,"b":0.834},{"p":4,"t":1998.5133,"r":0.31,"b":0.31},{"p":4,"t":1998.5133,"r":0,"b":0},{"p":4,"t":1998.5137,"r":0.53,"b":0.53},{"p":4,"t":1998.5137,"r":0.42,"b":0.42},{"p":4,"t":1998.5129,"r":0.15,"b":0.15},{"p":4,"t":1998.5141,"r":0.21,"b":0.21},{"p":4,"t":1998.5153,"r":0.086,"b":0.086},{"p":4,"t":1998.5153,"r":0,"b":0},{"p":4,"t":1998.5157,"r":0.74,"b":0.74},{"p":4,"t":1998.5161,"r":0.834,"b":0.834},{"p":4,"t":1998.5165,"r":1,"b":1},{"p":4,"t":1998.5165,"r":0.42,"b":0.42},{"p":4,"t":1998.5173,"r":0.21,"b":0.21},
{"p":4,"t":1998.5237,"r":1,"b":1},{"p":4,"t":1998.5237,"r":0.914,"b":0.914},{"p":4,"t":1998.5237,"r":0.56,"b":0.56},{"p":4,"t":1998.5237,"r":0.12,"b":0.12},{"p":4,"t":1998.5241,"r":0.66,"b":0.66},{"p":4,"t":1998.5241,"r":0.34,"b":0.34},{"p":4,"t":1998.5245,"r":0.82,"b":0.82},{"p":4,"t":1998.5245,"r":0.04,"b":0.04},{"p":4,"t":1998.5249,"r":0.74,"b":0.74},{"p":4,"t":1998.5249,"r":0.18,"b":0.44},{"p":4,"t":1998.5253,"r":0.28,"b":0.28},{"p":4,"t":1998.5261,"r":0.086,"b":0.086},{"p":4,"t":1998.5273,"r":0,"b":0},{"p":4,"t":1998.5289,"r":0,"b":0},
{"p":4,"t":1998.5570,"r":0.15,"b":0.21},{"p":4,"t":1998.5570,"r":0.04,"b":0.086},{"p":4,"t":1998.5570,"r":0,"b":0},{"p":4,"t":1998.5586,"r":0.36,"b":0.44},{"p":4,"t":1998.5606,"r":0,"b":0.086},{"p":4,"t":1998.5622,"r":0.15,"b":0.21},{"p":4,"t":1998.5622,"r":0.28,"b":0.28},{"p":4,"t":1998.5642,"r":0.36,"b":0.34},{"p":4,"t":1998.5642,"r":0.086,"b":0.086},{"p":4,"t":1998.5642,"r":0,"b":0},
{"p":4,"t":1998.5698,"r":0,"b":0.28},{"p":4,"t":1998.5702,"r":0.60,"b":0.60},{"p":4,"t":1998.5706,"r":1,"b":1},{"p":4,"t":1998.5706,"r":0.37,"b":0.37},{"p":4,"t":1998.5710,"r":0.66,"b":0.66},{"p":4,"t":1998.5714,"r":0.914,"b":0.914},{"p":4,"t":1998.5726,"r":1,"b":1},{"p":4,"t":1998.5726,"r":0.60,"b":0.60},{"p":4,"t":1998.5726,"r":0.18,"b":0.18},{"p":4,"t":1998.5726,"r":0,"b":0},{"p":4,"t":1998.5730,"r":0.44,"b":0.44},{"p":4,"t":1998.5734,"r":0.834,"b":0.834},{"p":4,"t":1998.5742,"r":1,"b":1},{"p":4,"t":1998.5742,"r":0.914,"b":0.914},{"p":4,"t":1998.5742,"r":0.53,"b":0.53},{"p":4,"t":1998.5758,"r":0.086,"b":0.086},{"p":4,"t":1998.5770,"r":0,"b":0},
{"p":4,"t":1998.5839,"r":0,"b":0},{"p":4,"t":1998.5855,"r":0.12,"b":0.12},{"p":4,"t":1998.5863,"r":0.675,"b":0.675},{"p":4,"t":1998.5863,"r":0.50,"b":0.50},{"p":4,"t":1998.5867,"r":0.18,"b":0.18},{"p":4,"t":1998.5871,"r":0,"b":0},{"p":4,"t":1998.5879,"r":0.245,"b":0.245},{"p":4,"t":1998.5883,"r":1,"b":1},{"p":4,"t":1998.5883,"r":0.675,"b":0.675},{"p":4,"t":1998.5887,"r":0.58,"b":0.58},{"p":4,"t":1998.5887,"r":0.325,"b":0.325},{"p":4,"t":1998.5919,"r":0,"b":0.12},
{"p":4,"t":1998.6015,"r":0.26,"b":0.26},{"p":4,"t":1998.6015,"r":0.04,"b":0.04},{"p":4,"t":1998.6051,"r":0.36,"b":0.36},{"p":4,"t":1998.6055,"r":0.086,"b":0.086},{"p":4,"t":1998.6063,"r":0.15,"b":0.15},{"p":4,"t":1998.6071,"r":0.834,"b":0.834},{"p":4,"t":1998.6071,"r":0.04,"b":0.04},{"p":4,"t":1998.6087,"r":0.36,"b":0.36},{"p":4,"t":1998.6087,"r":0.086,"b":0.086},{"p":4,"t":1998.6099,"r":1,"b":1},{"p":4,"t":1998.6099,"r":0.55,"b":0.55},{"p":4,"t":1998.6103,"r":0,"b":0},{"p":4,"t":1998.6107,"r":0.914,"b":0.914},{"p":4,"t":1998.6111,"r":0.23,"b":0.23},{"p":4,"t":1998.6131,"r":0.834,"b":0.834},{"p":4,"t":1998.6131,"r":0.755,"b":0.755},{"p":4,"t":1998.6135,"r":0.44,"b":0.44},{"p":4,"t":1998.6135,"r":0.31,"b":0.31},{"p":4,"t":1998.6139,"r":0.36,"b":0.36},{"p":4,"t":1998.6139,"r":0.04,"b":0.04},{"p":4,"t":1998.6139,"r":0,"b":0},
{"p":4,"t":1998.6487,"r":0.914,"b":0.914},{"p":4,"t":1998.6491,"r":0.50,"b":0.50},{"p":4,"t":1998.6491,"r":0.26,"b":0.26},{"p":4,"t":1998.6491,"r":0.18,"b":0.18},{"p":4,"t":1998.6483,"r":0.086,"b":0.086},{"p":4,"t":1998.6503,"r":0,"b":0},{"p":4,"t":1998.6527,"r":0,"b":0},{"p":4,"t":1998.6543,"r":0.26,"b":0.26},{"p":4,"t":1998.6547,"r":1,"b":1},{"p":4,"t":1998.6547,"r":0.755,"b":0.755},{"p":4,"t":1998.6547,"r":0.55,"b":0.63},{"p":4,"t":1998.6547,"r":0.18,"b":0.40},{"p":4,"t":1998.6551,"r":0.086,"b":0.086},{"p":4,"t":1998.6551,"r":0,"b":0},

{"p":5,"t":1998.4240,"r":0.44,"b":0.45},{"p":5,"t":1998.4240,"r":0.36,"b":0.39},{"p":5,"t":1998.4236,"r":0.18,"b":0.18},{"p":5,"t":1998.4236,"r":0.02,"b":0.02},{"p":5,"t":1998.4308,"r":0.02,"b":0.02},{"p":5,"t":1998.4336,"r":0.086,"b":0.15},{"p":5,"t":1998.4344,"r":0.15,"b":0.28},{"p":5,"t":1998.4344,"r":0.15,"b":0.18},{"p":5,"t":1998.4356,"r":0.02,"b":0.086},{"p":5,"t":1998.4356,"r":0.12,"b":0.39},{"p":5,"t":1998.4388,"r":0.04,"b":0.12},{"p":5,"t":1998.4408,"r":0.15,"b":0.39},{"p":5,"t":1998.4424,"r":0.28,"b":0.28},{"p":5,"t":1998.4428,"r":0.23,"b":0.21},{"p":5,"t":1998.4432,"r":0,"b":0.086},{"p":5,"t":1998.4492,"r":0.15,"b":0.18},{"p":5,"t":1998.4540,"r":0.42,"b":0.50},{"p":5,"t":1998.4540,"r":0.04,"b":0.18},
{"p":5,"t":1998.4657,"r":0.53,"b":0.58},{"p":5,"t":1998.4657,"r":0.28,"b":0.28},{"p":5,"t":1998.4661,"r":0.834,"b":0.834},{"p":5,"t":1998.4665,"r":0.44,"b":0.44},{"p":5,"t":1998.4665,"r":0.165,"b":0.165},{"p":5,"t":1998.4681,"r":0.21,"b":0.21},{"p":5,"t":1998.4689,"r":0.69,"b":0.66},{"p":5,"t":1998.4705,"r":0.40,"b":0.40},{"p":5,"t":1998.4705,"r":0.12,"b":0.12},{"p":5,"t":1998.4709,"r":0.755,"b":0.82},{"p":5,"t":1998.4713,"r":0.36,"b":0.36},{"p":5,"t":1998.4713,"r":0.02,"b":0.02},{"p":5,"t":1998.4737,"r":0.02,"b":0.02},{"p":5,"t":1998.4741,"r":0.07,"b":0.07},{"p":5,"t":1998.4745,"r":0.02,"b":0.02},
{"p":5,"t":1998.4813,"r":0.755,"b":0.755},{"p":5,"t":1998.4813,"r":0.18,"b":0.18},{"p":5,"t":1998.4813,"r":0.086,"b":0.15},
{"p":5,"t":1998.4945,"r":0.15,"b":0.15},{"p":5,"t":1998.4949,"r":0.755,"b":0.755},{"p":5,"t":1998.4949,"r":0.53,"b":0.53},{"p":5,"t":1998.4953,"r":0.36,"b":0.36},{"p":5,"t":1998.4953,"r":0.28,"b":0.28},{"p":5,"t":1998.4953,"r":0.086,"b":0.086},{"p":5,"t":1998.4973,"r":1,"b":1},{"p":5,"t":1998.4973,"r":0.36,"b":0.36},{"p":5,"t":1998.4977,"r":0.85,"b":0.85},{"p":5,"t":1998.4985,"r":0.755,"b":0.755},{"p":5,"t":1998.4985,"r":0.21,"b":0.21},{"p":5,"t":1998.4985,"r":0.086,"b":0.086},{"p":5,"t":1998.4985,"r":0,"b":0},{"p":5,"t":1998.4989,"r":0.914,"b":0.914},{"p":5,"t":1998.4989,"r":0.47,"b":0.47},{"p":5,"t":1998.5001,"r":1,"b":1},{"p":5,"t":1998.5001,"r":0.80,"b":0.80},{"p":5,"t":1998.5005,"r":0.47,"b":0.47},{"p":5,"t":1998.5009,"r":0.755,"b":0.755},
{"p":5,"t":1998.5129,"r":0.834,"b":0.834},{"p":5,"t":1998.5129,"r":0.42,"b":0.60},{"p":5,"t":1998.5129,"r":0.18,"b":0.18},{"p":5,"t":1998.5133,"r":0.50,"b":0.50},{"p":5,"t":1998.5137,"r":0.36,"b":0.36},{"p":5,"t":1998.5149,"r":0,"b":0},{"p":5,"t":1998.5153,"r":0.086,"b":0.086},{"p":5,"t":1998.5157,"r":0.755,"b":0.755},{"p":5,"t":1998.5161,"r":0.82,"b":0.82},{"p":5,"t":1998.5161,"r":0.26,"b":0.26},{"p":5,"t":1998.5165,"r":1,"b":1},{"p":5,"t":1998.5165,"r":0.93,"b":0.93},{"p":5,"t":1998.5165,"r":0.42,"b":0.42},{"p":5,"t":1998.5165,"r":0.18,"b":0.18},
{"p":5,"t":1998.5237,"r":0.755,"b":0.85},{"p":5,"t":1998.5237,"r":0.23,"b":0.23},{"p":5,"t":1998.5241,"r":0.53,"b":0.53},{"p":5,"t":1998.5245,"r":0.44,"b":0.44},{"p":5,"t":1998.5245,"r":0.18,"b":0.18},{"p":5,"t":1998.5249,"r":0.66,"b":0.66},{"p":5,"t":1998.5249,"r":0.086,"b":0.086},{"p":5,"t":1998.5253,"r":0,"b":0},{"p":5,"t":1998.5285,"r":0,"b":0},
{"p":5,"t":1998.5582,"r":0.20,"b":0.26},{"p":5,"t":1998.5582,"r":0.054,"b":0.07},{"p":5,"t":1998.5606,"r":0.02,"b":0.086},{"p":5,"t":1998.5622,"r":0.20,"b":0.26},{"p":5,"t":1998.5642,"r":0.28,"b":0.26},{"p":5,"t":1998.5642,"r":0.07,"b":0.086},
{"p":5,"t":1998.5694,"r":0.086,"b":0.086},{"p":5,"t":1998.5698,"r":0.02,"b":0.02},{"p":5,"t":1998.5702,"r":0.28,"b":0.28},{"p":5,"t":1998.5706,"r":0.15,"b":0.15},{"p":5,"t":1998.5710,"r":1,"b":1},{"p":5,"t":1998.5710,"r":0.755,"b":0.755},{"p":5,"t":1998.5710,"r":0.47,"b":0.47},{"p":5,"t":1998.5714,"r":0.66,"b":0.66},{"p":5,"t":1998.5722,"r":0.53,"b":0.53},{"p":5,"t":1998.5726,"r":0.21,"b":0.21},{"p":5,"t":1998.5734,"r":0.39,"b":0.39},{"p":5,"t":1998.5734,"r":0.086,"b":0.086},{"p":5,"t":1998.5742,"r":0.47,"b":0.47},{"p":5,"t":1998.5742,"r":0.21,"b":0.21},
{"p":5,"t":1998.5803,"r":0.086,"b":0.086},{"p":5,"t":1998.5895,"r":0.02,"b":0.086},{"p":5,"t":1998.5911,"r":0.12,"b":0.325},{"p":5,"t":1998.5935,"r":0.086,"b":0.18},{"p":5,"t":1998.5919,"r":0,"b":0},{"p":5,"t":1998.6019,"r":0.02,"b":0.02},
{"p":5,"t":1998.6071,"r":0.086,"b":0.086},{"p":5,"t":1998.6079,"r":0.18,"b":0.18},{"p":5,"t":1998.6091,"r":0.15,"b":0.26},{"p":5,"t":1998.6095,"r":0,"b":0},{"p":5,"t":1998.6103,"r":0.48,"b":0.48},{"p":5,"t":1998.6107,"r":1,"b":1},{"p":5,"t":1998.6107,"r":0.93,"b":0.93},{"p":5,"t":1998.6107,"r":0.39,"b":0.64},{"p":5,"t":1998.6111,"r":0,"b":0},{"p":5,"t":1998.6135,"r":0.834,"b":0.834},{"p":5,"t":1998.6135,"r":0.755,"b":0.755},{"p":5,"t":1998.6135,"r":0.325,"b":0.325},{"p":5,"t":1998.6139,"r":0.086,"b":0.086},
{"p":5,"t":1998.6487,"r":0.834,"b":0.93},{"p":5,"t":1998.6487,"r":0.50,"b":0.50},{"p":5,"t":1998.6487,"r":0.34,"b":0.26},{"p":5,"t":1998.6487,"r":0.07,"b":0.086},{"p":5,"t":1998.6547,"r":1,"b":1},{"p":5,"t":1998.6547,"r":0.66,"b":0.69},{"p":5,"t":1998.6547,"r":0.56,"b":0.60},{"p":5,"t":1998.6547,"r":0.47,"b":0.47},{"p":5,"t":1998.6547,"r":0.37,"b":0.37},{"p":5,"t":1998.6547,"r":0,"b":0.086},

{"p":6,"t":1998.4244,"r":0.45,"b":0.45},{"p":6,"t":1998.4232,"r":0.21,"b":0.31},{"p":6,"t":1998.4352,"r":0.40,"b":0.40},{"p":6,"t":1998.4344,"r":0.15,"b":0.15},{"p":6,"t":1998.4340,"r":0.02,"b":0.15},{"p":6,"t":1998.4360,"r":0,"b":0.18},{"p":6,"t":1998.4428,"r":0.37,"b":0.40},{"p":6,"t":1998.4428,"r":0.18,"b":0.245},{"p":6,"t":1998.4428,"r":0.086,"b":0.086},{"p":6,"t":1998.4432,"r":0.15,"b":0.18},{"p":6,"t":1998.4496,"r":0.12,"b":0.12},{"p":6,"t":1998.4540,"r":0.054,"b":0.15},{"p":6,"t":1998.4540,"r":0.15,"b":0.15},
{"p":6,"t":1998.4661,"r":0.60,"b":0.60},{"p":6,"t":1998.4661,"r":0.40,"b":0.50},{"p":6,"t":1998.4661,"r":0.23,"b":0.18},{"p":6,"t":1998.4661,"r":0.086,"b":0.18},{"p":6,"t":1998.4697,"r":0.12,"b":0.28},{"p":6,"t":1998.4697,"r":0.18,"b":0.15},{"p":6,"t":1998.4697,"r":0.086,"b":0.086},{"p":6,"t":1998.4813,"r":0.44,"b":0.44},{"p":6,"t":1998.4813,"r":0.086,"b":0.086},
{"p":6,"t":1998.4949,"r":0.675,"b":0.675},{"p":6,"t":1998.4949,"r":0.21,"b":0.21},{"p":6,"t":1998.4953,"r":0.34,"b":0.34},{"p":6,"t":1998.4953,"r":0.086,"b":0.086},{"p":6,"t":1998.4973,"r":1,"b":1},{"p":6,"t":1998.4977,"r":0.80,"b":0.80},{"p":6,"t":1998.4977,"r":0.53,"b":0.53},{"p":6,"t":1998.4977,"r":0.165,"b":0.165},{"p":6,"t":1998.4985,"r":0.45,"b":0.45},{"p":6,"t":1998.4989,"r":0.914,"b":0.914},{"p":6,"t":1998.4993,"r":0.72,"b":0.72},{"p":6,"t":1998.5001,"r":1,"b":1},{"p":6,"t":1998.5001,"r":0.39,"b":0.39},{"p":6,"t":1998.5005,"r":0.80,"b":0.80},{"p":6,"t":1998.5009,"r":0.34,"b":0.34},{"p":6,"t":1998.5009,"r":0.086,"b":0.086},
{"p":6,"t":1998.5129,"r":0.15,"b":0.15},{"p":6,"t":1998.5133,"r":0.60,"b":0.60},{"p":6,"t":1998.5133,"r":0.31,"b":0.31},{"p":6,"t":1998.5137,"r":0.18,"b":0.18},{"p":6,"t":1998.5141,"r":0.44,"b":0.44},{"p":6,"t":1998.5153,"r":0.18,"b":0.18},{"p":6,"t":1998.5157,"r":0.77,"b":0.77},{"p":6,"t":1998.5157,"r":0.02,"b":0.02},{"p":6,"t":1998.5165,"r":1,"b":1},{"p":6,"t":1998.5165,"r":0.66,"b":0.85},{"p":6,"t":1998.5165,"r":0.44,"b":0.44},{"p":6,"t":1998.5165,"r":0.245,"b":0.245},
{"p":6,"t":1998.5237,"r":0.50,"b":0.50},{"p":6,"t":1998.5241,"r":0.55,"b":0.55},{"p":6,"t":1998.5241,"r":0.28,"b":0.28},{"p":6,"t":1998.5245,"r":0.66,"b":0.85},{"p":6,"t":1998.5245,"r":0.18,"b":0.18},{"p":6,"t":1998.5249,"r":0.44,"b":0.44},{"p":6,"t":1998.5249,"r":0.12,"b":0.12},{"p":6,"t":1998.5253,"r":0,"b":0.086},{"p":6,"t":1998.5257,"r":0.18,"b":0.15},
{"p":6,"t":1998.5582,"r":0.086,"b":0.086},{"p":6,"t":1998.5586,"r":0.18,"b":0.245},{"p":6,"t":1998.5606,"r":0.02,"b":0.02},{"p":6,"t":1998.5610,"r":0.086,"b":0.245},{"p":6,"t":1998.5630,"r":0.02,"b":0.02},{"p":6,"t":1998.5642,"r":0.28,"b":0.28},{"p":6,"t":1998.5650,"r":0.054,"b":0.054},
{"p":6,"t":1998.5702,"r":0.47,"b":0.47},{"p":6,"t":1998.5702,"r":0.086,"b":0.086},{"p":6,"t":1998.5706,"r":0.21,"b":0.21},{"p":6,"t":1998.5710,"r":1,"b":1},{"p":6,"t":1998.5710,"r":0.66,"b":0.66},{"p":6,"t":1998.5710,"r":0.40,"b":0.40},{"p":6,"t":1998.5714,"r":0.56,"b":0.56},{"p":6,"t":1998.5730,"r":0,"b":0},{"p":6,"t":1998.5734,"r":0.47,"b":0.47},{"p":6,"t":1998.5734,"r":0.34,"b":0.34},{"p":6,"t":1998.5734,"r":0.18,"b":0.18},{"p":6,"t":1998.5734,"r":0.086,"b":0.086},{"p":6,"t":1998.5742,"r":0.18,"b":0.18},
{"p":6,"t":1998.5803,"r":0.02,"b":0.086},{"p":6,"t":1998.5931,"r":0.02,"b":0.07},
{"p":6,"t":1998.6079,"r":0.18,"b":0.18},{"p":6,"t":1998.6083,"r":0.28,"b":0.28},{"p":6,"t":1998.6091,"r":0.02,"b":0.02},{"p":6,"t":1998.6103,"r":0.12,"b":0.12},{"p":6,"t":1998.6107,"r":0.44,"b":0.44},{"p":6,"t":1998.6131,"r":0.85,"b":0.85},{"p":6,"t":1998.6135,"r":0.36,"b":0.36},{"p":6,"t":1998.6135,"r":0.21,"b":0.21},{"p":6,"t":1998.6139,"r":0.07,"b":0.07},
{"p":6,"t":1998.6487,"r":0.50,"b":0.60},{"p":6,"t":1998.6487,"r":0.26,"b":0.26},{"p":6,"t":1998.6487,"r":0.18,"b":0.086},{"p":6,"t":1998.6487,"r":0.02,"b":0.04},{"p":6,"t":1998.6547,"r":1,"b":1},{"p":6,"t":1998.6547,"r":0.675,"b":0.675},{"p":6,"t":1998.6547,"r":0.34,"b":0.37},{"p":6,"t":1998.6547,"r":0,"b":0.26},

{"p":7,"t":1998.4240,"r":0.165,"b":0.26},{"p":7,"t":1998.4240,"r":0.054,"b":0.054},{"p":7,"t":1998.4343,"r":0.054,"b":0.10},{"p":7,"t":1998.4343,"r":0.02,"b":0.02},{"p":7,"t":1998.4359,"r":0,"b":0.04},{"p":7,"t":1998.4423,"r":0.21,"b":0.31},{"p":7,"t":1998.4423,"r":0.13,"b":0.07},{"p":7,"t":1998.4423,"r":0.02,"b":0.04},{"p":7,"t":1998.4431,"r":0.086,"b":0.086},{"p":7,"t":1998.4494,"r":0.10,"b":0.10},{"p":7,"t":1998.4534,"r":0.086,"b":0.086},
{"p":7,"t":1998.4661,"r":0.32,"b":0.42},{"p":7,"t":1998.4661,"r":0.165,"b":0.165},{"p":7,"t":1998.4661,"r":0.07,"b":0.07},{"p":7,"t":1998.4693,"r":0.165,"b":0.165},{"p":7,"t":1998.4693,"r":0.07,"b":0.07},{"p":7,"t":1998.4813,"r":0.07,"b":0.07},{"p":7,"t":1998.4813,"r":0.02,"b":0.02},
{"p":7,"t":1998.4948,"r":0.15,"b":0.15},{"p":7,"t":1998.4964,"r":0.34,"b":0.34},{"p":7,"t":1998.4977,"r":1,"b":1},{"p":7,"t":1998.4977,"r":0.96,"b":0.96},{"p":7,"t":1998.4977,"r":0.83,"b":0.83},{"p":7,"t":1998.4977,"r":0.74,"b":0.74},{"p":7,"t":1998.4977,"r":0.53,"b":0.59},{"p":7,"t":1998.4980,"r":0.42,"b":0.42},{"p":7,"t":1998.4996,"r":0.07,"b":0.07},{"p":7,"t":1998.5004,"r":0.165,"b":0.165},{"p":7,"t":1998.5004,"r":0,"b":0},{"p":7,"t":1998.5012,"r":0.24,"b":0.24},
{"p":7,"t":1998.5139,"r":0.51,"b":0.51},{"p":7,"t":1998.5139,"r":0.13,"b":0.13},{"p":7,"t":1998.5147,"r":0.42,"b":0.42},{"p":7,"t":1998.5147,"r":0.21,"b":0.21},{"p":7,"t":1998.5155,"r":0.64,"b":0.64},{"p":7,"t":1998.5160,"r":1,"b":1},{"p":7,"t":1998.5163,"r":0.78,"b":0.78},{"p":7,"t":1998.5163,"r":0.72,"b":0.72},{"p":7,"t":1998.5163,"r":0.32,"b":0.32},{"p":7,"t":1998.5163,"r":0,"b":0},
{"p":7,"t":1998.5243,"r":0.61,"b":0.61},{"p":7,"t":1998.5243,"r":0.51,"b":0.51},{"p":7,"t":1998.5243,"r":0.39,"b":0.39},{"p":7,"t":1998.5243,"r":0.26,"b":0.26},{"p":7,"t":1998.5243,"r":0.165,"b":0.165},{"p":7,"t":1998.5243,"r":0.10,"b":0.10},{"p":7,"t":1998.5243,"r":0.02,"b":0.02},
{"p":7,"t":1998.5585,"r":0.07,"b":0.24},{"p":7,"t":1998.5585,"r":0,"b":0.07},{"p":7,"t":1998.5625,"r":0.165,"b":0.24},{"p":7,"t":1998.5625,"r":0.07,"b":0.07},
{"p":7,"t":1998.5712,"r":1,"b":1},{"p":7,"t":1998.5712,"r":0.61,"b":0.61},{"p":7,"t":1998.5712,"r":0.48,"b":0.48},{"p":7,"t":1998.5712,"r":0.165,"b":0.165},{"p":7,"t":1998.5720,"r":0.32,"b":0.32},{"p":7,"t":1998.5720,"r":0.054,"b":0.054},{"p":7,"t":1998.5736,"r":0.42,"b":0.42},{"p":7,"t":1998.5736,"r":0.10,"b":0.10},{"p":7,"t":1998.5744,"r":0.26,"b":0.26},{"p":7,"t":1998.5744,"r":0.02,"b":0.02},
{"p":7,"t":1998.6015,"r":0,"b":0},{"p":7,"t":1998.6102,"r":0.32,"b":0.32},{"p":7,"t":1998.6102,"r":0.15,"b":0.15},{"p":7,"t":1998.6134,"r":0.43,"b":0.56},{"p":7,"t":1998.6134,"r":0.32,"b":0.32},{"p":7,"t":1998.6134,"r":0.086,"b":0.086},{"p":7,"t":1998.6134,"r":0,"b":0.04},
{"p":7,"t":1998.6492,"r":0.04,"b":0.18},{"p":7,"t":1998.6492,"r":0,"b":0.04},{"p":7,"t":1998.6556,"r":1,"b":1},{"p":7,"t":1998.6556,"r":0.61,"b":0.61},{"p":7,"t":1998.6556,"r":0.43,"b":0.43},{"p":7,"t":1998.6556,"r":0.37,"b":0.37}
]},
"vconcat": [
{"title": {"text": "Cloud Overlap Fractions for Layer :0.53 −0.33", "fontSize": 37, "font": "Liberation Sans", "fontWeight": "normal", "color": "#111111", "anchor": "middle", "frame": "group", "offset": 6},
 "transform": [{"filter": "datum.p == 1"}], "width": 1112, "height": 155, "layer": [
 {"transform": [{"filter": "datum.r != null"}], "mark": {"type": "point", "shape": "circle", "stroke": "#ff0000", "size": 256},
  "encoding": {"x": {"field": "t", "type": "quantitative", "scale": {"domain": [1998.415, 1998.665], "nice": false, "zero": false}, "axis": {"title": null, "values": [1998.45, 1998.5, 1998.55, 1998.6, 1998.65], "format": ".2~f"}},
   "y": {"field": "r", "type": "quantitative", "scale": {"domain": [0, 1.5], "nice": false}, "axis": {"title": null, "values": [0, 0.5, 1, 1.5], "format": ".1~f"}}}},
 {"transform": [{"filter": "datum.b != null"}], "mark": {"type": "point", "shape": "M-1,-1L1,1M-1,1L1,-1", "stroke": "#0000ff", "size": 156},
  "encoding": {"x": {"field": "t", "type": "quantitative"}, "y": {"field": "b", "type": "quantitative"}}},
 {"transform": [{"filter": "datum.label != null"}], "mark": {"type": "text"},
  "encoding": {"x": {"datum": 1998.4186, "type": "quantitative"}, "y": {"datum": 1.31, "type": "quantitative"}, "text": {"field": "label"}}}
]},
{"transform": [{"filter": "datum.p == 2"}], "width": 1112, "height": 155, "layer": [
 {"transform": [{"filter": "datum.r != null"}], "mark": {"type": "point", "shape": "circle", "stroke": "#ff0000", "size": 256},
  "encoding": {"x": {"field": "t", "type": "quantitative", "scale": {"domain": [1998.415, 1998.665], "nice": false, "zero": false}, "axis": {"title": null, "values": [1998.45, 1998.5, 1998.55, 1998.6, 1998.65], "format": ".2~f"}},
   "y": {"field": "r", "type": "quantitative", "scale": {"domain": [0, 1.5], "nice": false}, "axis": {"title": null, "values": [0, 0.5, 1, 1.5], "format": ".1~f"}}}},
 {"transform": [{"filter": "datum.b != null"}], "mark": {"type": "point", "shape": "M-1,-1L1,1M-1,1L1,-1", "stroke": "#0000ff", "size": 156},
  "encoding": {"x": {"field": "t", "type": "quantitative"}, "y": {"field": "b", "type": "quantitative"}}},
 {"transform": [{"filter": "datum.label != null"}], "mark": {"type": "text"},
  "encoding": {"x": {"datum": 1998.4186, "type": "quantitative"}, "y": {"datum": 1.31, "type": "quantitative"}, "text": {"field": "label"}}}
]},
{"transform": [{"filter": "datum.p == 3"}], "width": 1112, "height": 155, "layer": [
 {"transform": [{"filter": "datum.r != null"}], "mark": {"type": "point", "shape": "circle", "stroke": "#ff0000", "size": 256},
  "encoding": {"x": {"field": "t", "type": "quantitative", "scale": {"domain": [1998.415, 1998.665], "nice": false, "zero": false}, "axis": {"title": null, "values": [1998.45, 1998.5, 1998.55, 1998.6, 1998.65], "format": ".2~f"}},
   "y": {"field": "r", "type": "quantitative", "scale": {"domain": [0, 1.5], "nice": false}, "axis": {"title": null, "values": [0, 0.5, 1, 1.5], "format": ".1~f"}}}},
 {"transform": [{"filter": "datum.b != null"}], "mark": {"type": "point", "shape": "M-1,-1L1,1M-1,1L1,-1", "stroke": "#0000ff", "size": 156},
  "encoding": {"x": {"field": "t", "type": "quantitative"}, "y": {"field": "b", "type": "quantitative"}}},
 {"transform": [{"filter": "datum.label != null"}], "mark": {"type": "text"},
  "encoding": {"x": {"datum": 1998.4186, "type": "quantitative"}, "y": {"datum": 1.31, "type": "quantitative"}, "text": {"field": "label"}}}
]},
{"transform": [{"filter": "datum.p == 4"}], "width": 1112, "height": 155, "layer": [
 {"transform": [{"filter": "datum.r != null"}], "mark": {"type": "point", "shape": "circle", "stroke": "#ff0000", "size": 256},
  "encoding": {"x": {"field": "t", "type": "quantitative", "scale": {"domain": [1998.415, 1998.665], "nice": false, "zero": false}, "axis": {"title": null, "values": [1998.45, 1998.5, 1998.55, 1998.6, 1998.65], "format": ".2~f"}},
   "y": {"field": "r", "type": "quantitative", "scale": {"domain": [0, 1.5], "nice": false}, "axis": {"title": null, "values": [0, 0.5, 1, 1.5], "format": ".1~f"}}}},
 {"transform": [{"filter": "datum.b != null"}], "mark": {"type": "point", "shape": "M-1,-1L1,1M-1,1L1,-1", "stroke": "#0000ff", "size": 156},
  "encoding": {"x": {"field": "t", "type": "quantitative"}, "y": {"field": "b", "type": "quantitative"}}},
 {"transform": [{"filter": "datum.label != null"}], "mark": {"type": "text"},
  "encoding": {"x": {"datum": 1998.4186, "type": "quantitative"}, "y": {"datum": 1.31, "type": "quantitative"}, "text": {"field": "label"}}}
]},
{"transform": [{"filter": "datum.p == 5"}], "width": 1112, "height": 155, "layer": [
 {"transform": [{"filter": "datum.r != null"}], "mark": {"type": "point", "shape": "circle", "stroke": "#ff0000", "size": 256},
  "encoding": {"x": {"field": "t", "type": "quantitative", "scale": {"domain": [1998.415, 1998.665], "nice": false, "zero": false}, "axis": {"title": null, "values": [1998.45, 1998.5, 1998.55, 1998.6, 1998.65], "format": ".2~f"}},
   "y": {"field": "r", "type": "quantitative", "scale": {"domain": [0, 1.5], "nice": false}, "axis": {"title": null, "values": [0, 0.5, 1, 1.5], "format": ".1~f"}}}},
 {"transform": [{"filter": "datum.b != null"}], "mark": {"type": "point", "shape": "M-1,-1L1,1M-1,1L1,-1", "stroke": "#0000ff", "size": 156},
  "encoding": {"x": {"field": "t", "type": "quantitative"}, "y": {"field": "b", "type": "quantitative"}}},
 {"transform": [{"filter": "datum.label != null"}], "mark": {"type": "text"},
  "encoding": {"x": {"datum": 1998.4186, "type": "quantitative"}, "y": {"datum": 1.31, "type": "quantitative"}, "text": {"field": "label"}}}
]},
{"transform": [{"filter": "datum.p == 6"}], "width": 1112, "height": 155, "layer": [
 {"transform": [{"filter": "datum.r != null"}], "mark": {"type": "point", "shape": "circle", "stroke": "#ff0000", "size": 256},
  "encoding": {"x": {"field": "t", "type": "quantitative", "scale": {"domain": [1998.415, 1998.665], "nice": false, "zero": false}, "axis": {"title": null, "values": [1998.45, 1998.5, 1998.55, 1998.6, 1998.65], "format": ".2~f"}},
   "y": {"field": "r", "type": "quantitative", "scale": {"domain": [0, 1.5], "nice": false}, "axis": {"title": null, "values": [0, 0.5, 1, 1.5], "format": ".1~f"}}}},
 {"transform": [{"filter": "datum.b != null"}], "mark": {"type": "point", "shape": "M-1,-1L1,1M-1,1L1,-1", "stroke": "#0000ff", "size": 156},
  "encoding": {"x": {"field": "t", "type": "quantitative"}, "y": {"field": "b", "type": "quantitative"}}},
 {"transform": [{"filter": "datum.label != null"}], "mark": {"type": "text"},
  "encoding": {"x": {"datum": 1998.4186, "type": "quantitative"}, "y": {"datum": 1.31, "type": "quantitative"}, "text": {"field": "label"}}}
]},
{"transform": [{"filter": "datum.p == 7"}], "width": 1112, "height": 155, "layer": [
 {"transform": [{"filter": "datum.r != null"}], "mark": {"type": "point", "shape": "circle", "stroke": "#ff0000", "size": 256},
  "encoding": {"x": {"field": "t", "type": "quantitative", "scale": {"domain": [1998.415, 1998.665], "nice": false, "zero": false}, "axis": {"title": "time − in years", "values": [1998.45, 1998.5, 1998.55, 1998.6, 1998.65], "format": ".2~f"}},
   "y": {"field": "r", "type": "quantitative", "scale": {"domain": [0, 1.5], "nice": false}, "axis": {"title": null, "values": [0, 0.5, 1, 1.5], "format": ".1~f"}}}},
 {"transform": [{"filter": "datum.b != null"}], "mark": {"type": "point", "shape": "M-1,-1L1,1M-1,1L1,-1", "stroke": "#0000ff", "size": 156},
  "encoding": {"x": {"field": "t", "type": "quantitative"}, "y": {"field": "b", "type": "quantitative"}}},
 {"transform": [{"filter": "datum.label != null"}], "mark": {"type": "text"},
  "encoding": {"x": {"datum": 1998.4186, "type": "quantitative"}, "y": {"datum": 1.31, "type": "quantitative"}, "text": {"field": "label"}}}
]}
]
}
